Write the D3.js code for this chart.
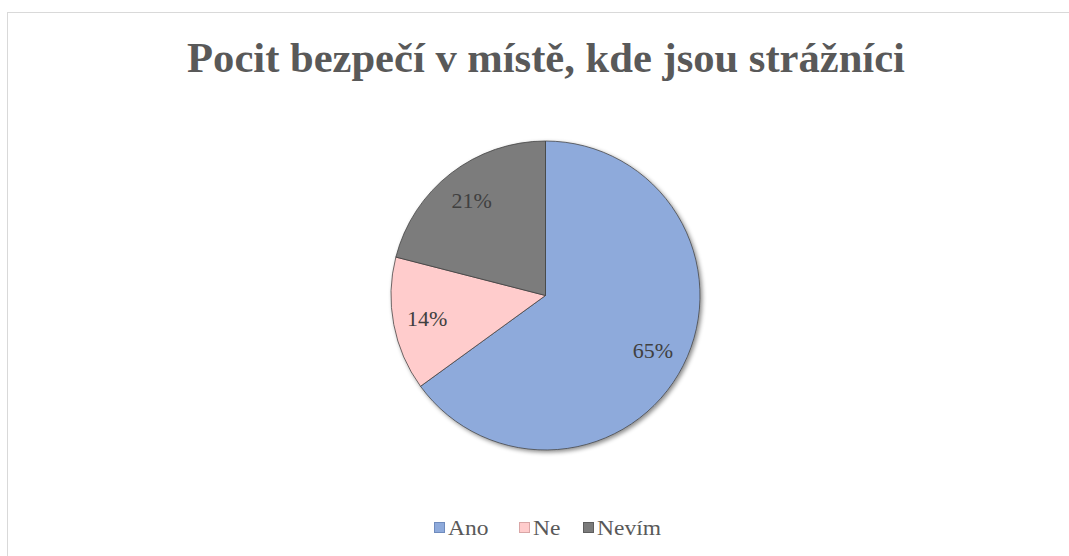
<!DOCTYPE html>
<html>
<head>
<meta charset="utf-8">
<script src="https://cdn.jsdelivr.net/npm/d3@7"></script>
<style>
  body { margin: 0; background: #fff; }
  svg { display: block; }
  text { font-family: "Liberation Serif", "Times New Roman", Tinos, "DejaVu Serif", serif; }
</style>
</head>
<body>
<svg id="chart"></svg>
<script>
var width = 1069, height = 556;

var categories = ["Ano", "Ne", "Nevím"];
var values = [65, 14, 21];
var colors = ["#8eaadb", "#ffcccc", "#7b7b7b"];
var strokes = ["#6f8bbd", "#d9a6a6", "#5e5e5e"];
var title = "Pocit bezpečí v místě, kde jsou strážníci";

var svg = d3.select("#chart")
    .attr("width", width)
    .attr("height", height);

// soft shadow under the pie
var shadow = svg.append("defs").append("filter")
    .attr("id", "pieShadow")
    .attr("x", "-10%").attr("y", "-10%")
    .attr("width", "120%").attr("height", "120%");
shadow.append("feDropShadow")
    .attr("dx", 2)
    .attr("dy", 2)
    .attr("stdDeviation", 2)
    .attr("flood-color", "#000")
    .attr("flood-opacity", 0.45);

// chart frame (right and bottom sit outside the picture)
svg.append("rect")
    .attr("x", 7.5)
    .attr("y", 12.5)
    .attr("width", 1080)
    .attr("height", 560)
    .attr("fill", "#fff")
    .attr("stroke", "#d9d9d9")
    .attr("stroke-width", 1);

var titleText = svg.append("text")
    .attr("x", 546)
    .attr("y", 72)
    .attr("text-anchor", "middle")
    .style("font-weight", "bold")
    .style("font-size", "40px")
    .attr("fill", "#595959")
    .text(title);

// stretch the title to the width it has in the picture
var tw = titleText.node().getComputedTextLength();
titleText.style("font-size", (40 * 718 / tw) + "px");

var cx = 545.5, cy = 295.5, radius = 154.5;

var pie = d3.pie().sort(null).value(function(d) { return d; });
var arc = d3.arc().innerRadius(0).outerRadius(radius);
var labelArc = d3.arc().innerRadius(radius * 0.78).outerRadius(radius * 0.78);

var pieG = svg.append("g")
    .attr("transform", "translate(" + cx + "," + cy + ")");

var arcs = pie(values);

pieG.append("g")
    .attr("filter", "url(#pieShadow)")
    .selectAll("path.slice")
    .data(arcs)
    .enter()
    .append("path")
    .attr("class", "slice")
    .attr("d", arc)
    .attr("fill", function(d, i) { return colors[i]; })
    .attr("stroke", "#404040")
    .attr("stroke-width", 0.75);

pieG.selectAll("text.label")
    .data(arcs)
    .enter()
    .append("text")
    .attr("class", "label")
    .attr("transform", function(d) { return "translate(" + labelArc.centroid(d) + ")"; })
    .attr("text-anchor", "middle")
    .attr("dy", "0.35em")
    .style("font-size", "22px")
    .attr("fill", "#404040")
    .text(function(d) { return d.data + "%"; });

// legend
var legendX = [434, 519, 583];
var legend = svg.selectAll("g.legend")
    .data(categories)
    .enter()
    .append("g")
    .attr("class", "legend")
    .attr("transform", function(d, i) { return "translate(" + legendX[i] + ",522)"; });

legend.append("rect")
    .attr("x", 0.5)
    .attr("y", 0.5)
    .attr("width", 10)
    .attr("height", 10)
    .attr("fill", function(d, i) { return colors[i]; })
    .attr("stroke", function(d, i) { return strokes[i]; })
    .attr("stroke-width", 1);

legend.append("text")
    .attr("transform", "translate(14,12.5) scale(1.12,1)")
    .style("font-size", "21px")
    .attr("fill", "#595959")
    .text(function(d) { return d; });
</script>
</body>
</html>
